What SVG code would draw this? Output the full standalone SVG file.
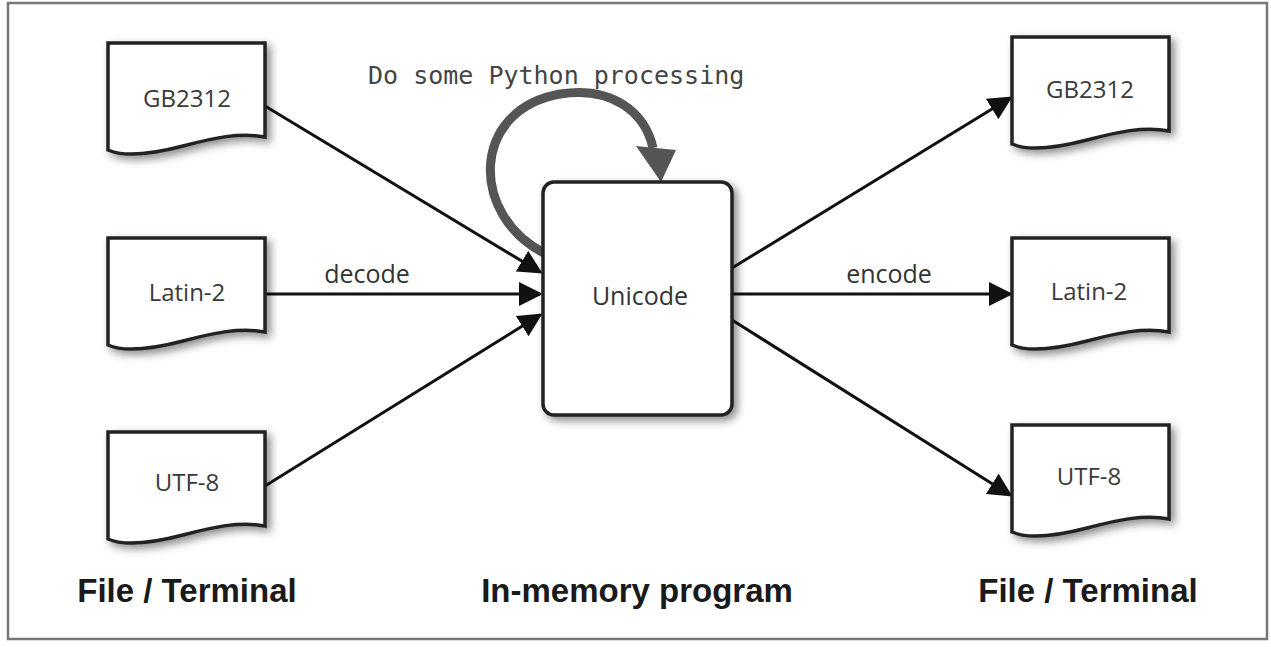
<svg xmlns="http://www.w3.org/2000/svg" width="1271" height="647" viewBox="0 0 1271 647">
<style>
.doc{fill:#fff;stroke:#222;stroke-width:3.5;stroke-linejoin:miter}
.lbl{font-family:"Open Sans","Liberation Sans",sans-serif;font-size:24px;fill:#3a3a3a;text-anchor:middle}
.elbl{font-family:"Open Sans","Liberation Sans",sans-serif;font-size:25px;fill:#333;text-anchor:middle}
.title{font-family:"Liberation Sans",Arial,sans-serif;font-weight:bold;font-size:33px;fill:#1a1a1a;text-anchor:middle}
.mono{font-family:"DejaVu Sans Mono","Liberation Mono",monospace;font-size:25px;fill:#444}
.conn{stroke:#111;stroke-width:3;fill:none;marker-end:url(#ah)}
</style>
<defs>
<filter id="sh" x="-20%" y="-20%" width="150%" height="150%">
<feDropShadow dx="4" dy="4" stdDeviation="4" flood-color="#000" flood-opacity="0.45"/>
</filter>
<marker id="ah" markerWidth="8" markerHeight="8" refX="7" refY="4" orient="auto" markerUnits="strokeWidth">
<path d="M0,0 L8,4 L0,8 Z" fill="#111"/>
</marker>
<path id="docshape" d="M0,0 H157 V94 C132,89 105,95 75,103 C48,110 18,115 0,107 Z"/>
</defs>
<rect x="0" y="0" width="1271" height="647" fill="#fff"/>
<rect x="8" y="3" width="1259" height="636" fill="none" stroke="#777" stroke-width="2.5"/>

<g id="connectors">
<line class="conn" x1="265" y1="106" x2="540" y2="272"/>
<line class="conn" x1="265" y1="294" x2="540" y2="294"/>
<line class="conn" x1="265" y1="486" x2="540" y2="315"/>
<line class="conn" x1="732" y1="268" x2="1010" y2="98"/>
<line class="conn" x1="732" y1="294" x2="1010" y2="294"/>
<line class="conn" x1="732" y1="320" x2="1010" y2="495"/>
<text class="elbl" x="367" y="283">decode</text>
<text class="elbl" x="889" y="283">encode</text>
</g>

<g id="loop">
<path d="M544,253 C470,215 470,110 560,94 C612,86 645,112 653,148" fill="none" stroke="#555" stroke-width="9"/>
<polygon points="636,146 676,150 661,182" fill="#555"/>
<text class="mono" x="368" y="84">Do some Python processing</text>
</g>

<g id="unicode">
<rect x="543" y="182" width="189" height="233" rx="11" fill="#fff" stroke="#222" stroke-width="3.5" filter="url(#sh)"/>
<text class="elbl" x="640" y="305">Unicode</text>
</g>

<g id="in-gb2312">
<use href="#docshape" class="doc" transform="translate(108,43)" filter="url(#sh)"/>
<text class="lbl" x="187" y="107">GB2312</text>
</g>
<g id="in-latin2">
<use href="#docshape" class="doc" transform="translate(108,238)" filter="url(#sh)"/>
<text class="lbl" x="187" y="301">Latin-2</text>
</g>
<g id="in-utf8">
<use href="#docshape" class="doc" transform="translate(108,432)" filter="url(#sh)"/>
<text class="lbl" x="187" y="491">UTF-8</text>
</g>

<g id="out-gb2312">
<use href="#docshape" class="doc" transform="translate(1012,37)" filter="url(#sh)"/>
<text class="lbl" x="1090" y="98">GB2312</text>
</g>
<g id="out-latin2">
<use href="#docshape" class="doc" transform="translate(1012,238)" filter="url(#sh)"/>
<text class="lbl" x="1089" y="300">Latin-2</text>
</g>
<g id="out-utf8">
<use href="#docshape" class="doc" transform="translate(1012,425)" filter="url(#sh)"/>
<text class="lbl" x="1089" y="485">UTF-8</text>
</g>

<g id="captions">
<text class="title" x="187" y="602">File / Terminal</text>
<text class="title" x="637" y="602">In-memory program</text>
<text class="title" x="1088" y="602">File / Terminal</text>
</g>
</svg>
